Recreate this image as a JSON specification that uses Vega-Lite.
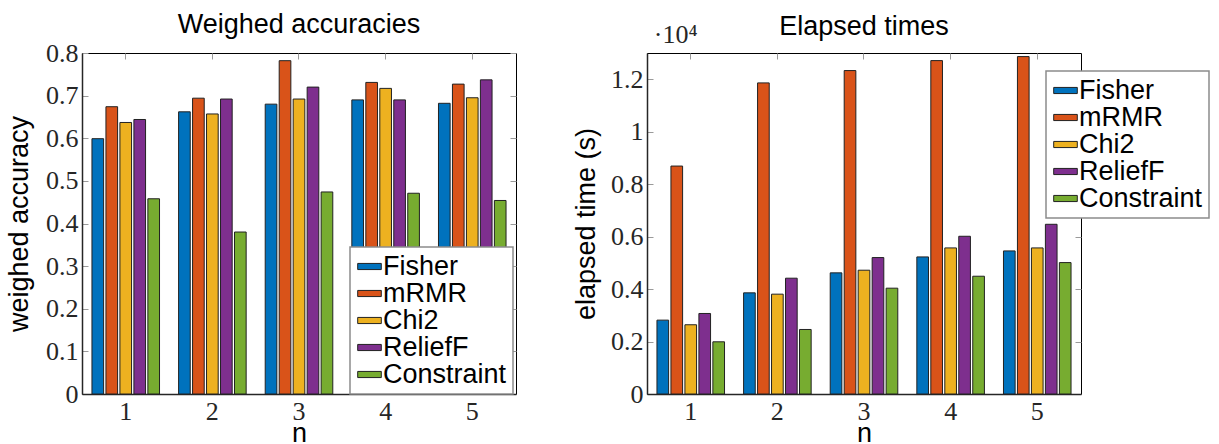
{
  "$schema": "https://vega.github.io/schema/vega-lite/v6.json",
  "padding": {"left": 5, "top": 10, "right": 0, "bottom": 0},
  "autosize": {"type": "pad"},
  "background": "white",
  "config": {
    "font": "Liberation Sans",
    "view": {"stroke": "#000", "strokeWidth": 1},
    "axis": {
      "labelFont": "Liberation Serif",
      "labelFontSize": 26,
      "labelColor": "#262626",
      "titleFont": "Liberation Sans",
      "titleFontSize": 27,
      "titleFontWeight": "normal",
      "titleColor": "#000",
      "domainColor": "#262626",
      "domainWidth": 1.5,
      "ticks": false,
      "grid": true,
      "gridColor": "#9a9a9a",
      "gridWidth": 1,
      "gridOpacity": 1
    },
    "axisY": {"gridDash": [6, 422]},
    "axisX": {"gridDash": [6, 329], "bandPosition": 0.5},
    "title": {"font": "Liberation Sans", "fontSize": 27, "fontWeight": "normal", "color": "#000"},
    "legend": {
      "orient": "none",
      "title": null,
      "padding": 6,
      "strokeColor": "#8c8c8c",
      "strokeWidth": 1.5,
      "fillColor": "white",
      "labelFont": "Liberation Sans",
      "labelFontSize": 27,
      "labelColor": "#000",
      "labelOffset": 0,
      "rowPadding": -2,
      "symbolType": "M-1,-0.26H1V0.26H-1Z",
      "symbolSize": 557,
      "symbolStrokeColor": "#222",
      "symbolStrokeWidth": 1
    }
  },
  "datasets": {
    "acc": [
      {"n": 1, "method": "Fisher", "value": 0.599},
      {"n": 1, "method": "mRMR", "value": 0.674},
      {"n": 1, "method": "Chi2", "value": 0.637},
      {"n": 1, "method": "ReliefF", "value": 0.644},
      {"n": 1, "method": "Constraint", "value": 0.458},
      {"n": 2, "method": "Fisher", "value": 0.662},
      {"n": 2, "method": "mRMR", "value": 0.694},
      {"n": 2, "method": "Chi2", "value": 0.657},
      {"n": 2, "method": "ReliefF", "value": 0.692},
      {"n": 2, "method": "Constraint", "value": 0.380},
      {"n": 3, "method": "Fisher", "value": 0.680},
      {"n": 3, "method": "mRMR", "value": 0.782},
      {"n": 3, "method": "Chi2", "value": 0.692},
      {"n": 3, "method": "ReliefF", "value": 0.720},
      {"n": 3, "method": "Constraint", "value": 0.474},
      {"n": 4, "method": "Fisher", "value": 0.690},
      {"n": 4, "method": "mRMR", "value": 0.731},
      {"n": 4, "method": "Chi2", "value": 0.717},
      {"n": 4, "method": "ReliefF", "value": 0.690},
      {"n": 4, "method": "Constraint", "value": 0.471},
      {"n": 5, "method": "Fisher", "value": 0.682},
      {"n": 5, "method": "mRMR", "value": 0.727},
      {"n": 5, "method": "Chi2", "value": 0.695},
      {"n": 5, "method": "ReliefF", "value": 0.737},
      {"n": 5, "method": "Constraint", "value": 0.454}
    ],
    "time": [
      {"n": 1, "method": "Fisher", "value": 2816},
      {"n": 1, "method": "mRMR", "value": 8690},
      {"n": 1, "method": "Chi2", "value": 2640},
      {"n": 1, "method": "ReliefF", "value": 3070},
      {"n": 1, "method": "Constraint", "value": 1990},
      {"n": 2, "method": "Fisher", "value": 3856},
      {"n": 2, "method": "mRMR", "value": 11860},
      {"n": 2, "method": "Chi2", "value": 3806},
      {"n": 2, "method": "ReliefF", "value": 4415},
      {"n": 2, "method": "Constraint", "value": 2460},
      {"n": 3, "method": "Fisher", "value": 4618},
      {"n": 3, "method": "mRMR", "value": 12330},
      {"n": 3, "method": "Chi2", "value": 4719},
      {"n": 3, "method": "ReliefF", "value": 5201},
      {"n": 3, "method": "Constraint", "value": 4034},
      {"n": 4, "method": "Fisher", "value": 5226},
      {"n": 4, "method": "mRMR", "value": 12710},
      {"n": 4, "method": "Chi2", "value": 5569},
      {"n": 4, "method": "ReliefF", "value": 6013},
      {"n": 4, "method": "Constraint", "value": 4490},
      {"n": 5, "method": "Fisher", "value": 5455},
      {"n": 5, "method": "mRMR", "value": 12863},
      {"n": 5, "method": "Chi2", "value": 5569},
      {"n": 5, "method": "ReliefF", "value": 6470},
      {"n": 5, "method": "Constraint", "value": 5010}
    ],
    "scaleNote": [
      {"n": 1, "value": 13000, "label": "·10⁴"}
    ]
  },
  "resolve": {"legend": {"color": "independent"}},
  "spacing": 55,
  "hconcat": [
    {
      "width": 434,
      "height": 341,
      "title": {"text": "Weighed accuracies", "offset": 1},
      "data": {"name": "acc"},
      "mark": {"type": "bar", "stroke": "#222", "strokeWidth": 1},
      "encoding": {
        "x": {"field": "n", "type": "ordinal", "scale": {"paddingInner": 0.22, "paddingOuter": 0.115},
              "axis": {"labelAngle": 0, "title": "n", "labelPadding": 4, "titlePadding": -4}},
        "xOffset": {"field": "method", "type": "nominal", "sort": ["Fisher", "mRMR", "Chi2", "ReliefF", "Constraint"],
                    "scale": {"paddingInner": 0.166, "paddingOuter": 0}},
        "y": {"field": "value", "type": "quantitative", "scale": {"domain": [0, 0.8], "nice": false},
              "axis": {"values": [0, 0.1, 0.2, 0.3, 0.4, 0.5, 0.6, 0.7, 0.8],
                       "labelExpr": "format(datum.value, '~g')", "title": "weighed accuracy", "labelPadding": 4, "titlePadding": 12}},
        "color": {"field": "method", "type": "nominal",
                  "scale": {"domain": ["Fisher", "mRMR", "Chi2", "ReliefF", "Constraint"],
                            "range": ["#0072BD", "#D95319", "#EDB120", "#7E2F8E", "#77AC30"]},
                  "legend": {"legendX": 268, "legendY": 194}}
      }
    },
    {
      "width": 434,
      "height": 341,
      "title": {"text": "Elapsed times", "offset": -19},
      "layer": [
        {
          "data": {"name": "time"},
          "mark": {"type": "bar", "stroke": "#222", "strokeWidth": 1},
          "encoding": {
            "x": {"field": "n", "type": "ordinal", "scale": {"paddingInner": 0.22, "paddingOuter": 0.115},
                  "axis": {"labelAngle": 0, "title": "n", "labelPadding": 4, "titlePadding": -4}},
            "xOffset": {"field": "method", "type": "nominal", "sort": ["Fisher", "mRMR", "Chi2", "ReliefF", "Constraint"],
                        "scale": {"paddingInner": 0.166, "paddingOuter": 0}},
            "y": {"field": "value", "type": "quantitative", "scale": {"domain": [0, 13000], "nice": false},
                  "axis": {"values": [0, 2000, 4000, 6000, 8000, 10000, 12000],
                           "labelExpr": "format(datum.value / 10000, '~g')", "title": "elapsed time (s)", "labelPadding": 4, "titlePadding": 10}},
            "color": {"field": "method", "type": "nominal",
                      "scale": {"domain": ["Fisher", "mRMR", "Chi2", "ReliefF", "Constraint"],
                                "range": ["#0072BD", "#D95319", "#EDB120", "#7E2F8E", "#77AC30"]},
                      "legend": {"legendX": 399, "legendY": 18}}
          }
        },
        {
          "data": {"name": "scaleNote"},
          "mark": {"type": "text", "font": "Liberation Serif", "fontSize": 26, "color": "#262626",
                   "align": "left", "baseline": "alphabetic", "dx": -37, "dy": -10},
          "encoding": {
            "x": {"field": "n", "type": "ordinal"},
            "y": {"field": "value", "type": "quantitative"},
            "text": {"field": "label"}
          }
        }
      ]
    }
  ]
}
